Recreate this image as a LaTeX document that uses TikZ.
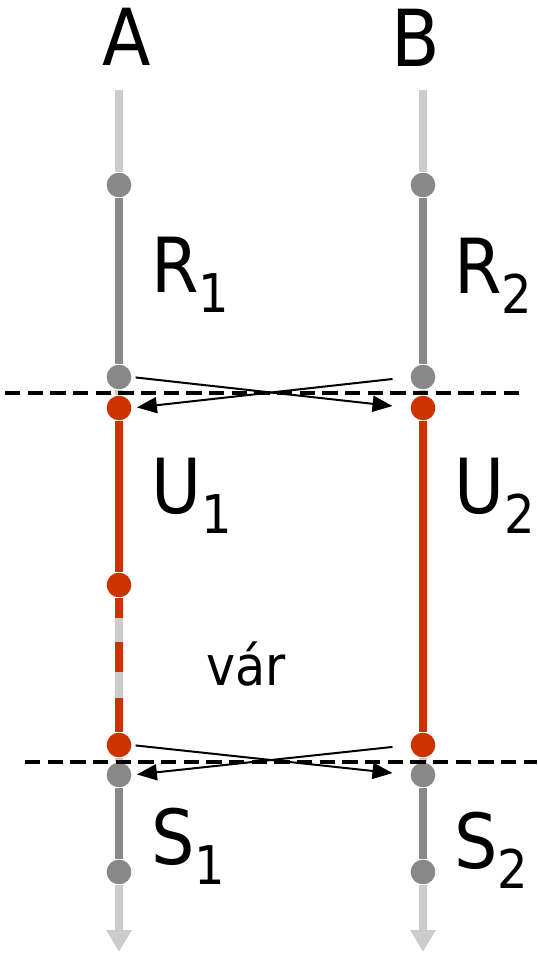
\documentclass[tikz,border=0pt]{standalone}
\usepackage{fontspec}
\setmainfont{DejaVu Sans}[FakeStretch=0.9]
\usepackage{tikz}
\usetikzlibrary{arrows.meta}
\definecolor{tlred}{HTML}{CC3300}
\definecolor{tlgray}{HTML}{888888}
\definecolor{tlpale}{HTML}{CCCCCC}
\newcommand{\lbl}[2]{#1\raisebox{-15pt}{\fontsize{40}{40}\selectfont #2}}

\begin{document}
\begin{tikzpicture}[x=0.75pt,y=-0.75pt,
  dot/.style={circle,inner sep=0pt,minimum size=18.5pt,fill=#1},
  seg/.style={line width=6pt,#1},
  xarr/.style={-{Triangle[length=15pt,width=12pt]},line width=1.5pt},
  cut/.style={dash pattern=on 11.5pt off 5.5pt,line width=2.6pt},
  big/.style={font=\fontsize{57}{57}\selectfont,inner sep=0pt,anchor=base west}]
  \useasboundingbox (0,0) rectangle (537,953);
  % column heads
  \node[big,anchor=base,font=\fontsize{59}{59}\selectfont] (A) at (127,65) {A};
  \node[big,anchor=base,font=\fontsize{59}{59}\selectfont] (B) at (416,66) {B};
  % events on A
  \coordinate (a0) at (119,90);
  \node[dot=tlgray] (a1) at (119,185) {};
  \node[dot=tlgray] (a2) at (119,377) {};
  \node[dot=tlred] (a3) at (119,408) {};
  \node[dot=tlred] (a4) at (119,585) {};
  \node[dot=tlred] (a5) at (119,745) {};
  \node[dot=tlgray] (a6) at (119,775) {};
  \node[dot=tlgray] (a7) at (119,872) {};
  \coordinate (a8) at (119,952);
  % events on B
  \coordinate (b0) at (423,90);
  \node[dot=tlgray] (b1) at (423,185) {};
  \node[dot=tlgray] (b2) at (423,377) {};
  \node[dot=tlred] (b3) at (423,408) {};
  \node[dot=tlred] (b5) at (423,745) {};
  \node[dot=tlgray] (b6) at (423,775) {};
  \node[dot=tlgray] (b7) at (423,872) {};
  \coordinate (b8) at (423,952);
  % timelines
  \draw[seg=tlpale] (a0) -- (a1);
  \draw[seg=tlgray] (a1) -- (a2);
  \draw[seg=tlpale] (a2) -- (a3);
  \draw[seg=tlred] (a3) -- (a4);
  \draw[seg=tlpale] (a4) -- (a5);
  \draw[seg=tlred,dash pattern=on 15pt off 18pt on 22.5pt off 19.5pt on 40pt off 10pt] (a4) -- (a5);
  \draw[seg=tlpale] (a5) -- (a6);
  \draw[seg=tlgray] (a6) -- (a7);
  \draw[seg=tlpale,-{Triangle[length=16.5pt,width=18pt]}] (a7) -- (a8);
  \draw[seg=tlpale] (b0) -- (b1);
  \draw[seg=tlgray] (b1) -- (b2);
  \draw[seg=tlpale] (b2) -- (b3);
  \draw[seg=tlred] (b3) -- (b5);
  \draw[seg=tlpale] (b5) -- (b6);
  \draw[seg=tlgray] (b6) -- (b7);
  \draw[seg=tlpale,-{Triangle[length=16.5pt,width=18pt]}] (b7) -- (b8);
  % cuts
  \coordinate (c1) at (5,393);
  \coordinate (c2) at (520,393);
  \coordinate (d1) at (25,762);
  \coordinate (d2) at (537,762);
  \draw[cut] (c1) -- (c2);
  \draw[cut] (d1) -- (d2);
  % exchanges
  \draw[xarr,shorten <=3pt,shorten >=13.5pt] (a2.east) -- (b3.west);
  \draw[xarr,shorten <=13.5pt,shorten >=4pt] (b2.west) -- (a3.east);
  \draw[xarr,shorten <=3pt,shorten >=13.5pt] (a5.east) -- (b6.west);
  \draw[xarr,shorten <=13.5pt,shorten >=4pt] (b5.west) -- (a6.east);
  % labels
  \node[big] (r1) at (151,292) {\lbl{R}{1}};
  \node[big] (r2) at (454,293) {\lbl{R}{2}};
  \node[big] (u1) at (151,513) {\lbl{U}{1}};
  \node[big] (u2) at (454,513) {\lbl{U}{2}};
  \node[big] (s1) at (151,864) {\lbl{S}{1}};
  \node[big] (s2) at (454,868) {\lbl{S}{2}};
  \node[inner sep=0pt,anchor=base west,font=\fontsize{41}{41}\selectfont] (var) at (206,685) {vár};
\end{tikzpicture}
\end{document}
